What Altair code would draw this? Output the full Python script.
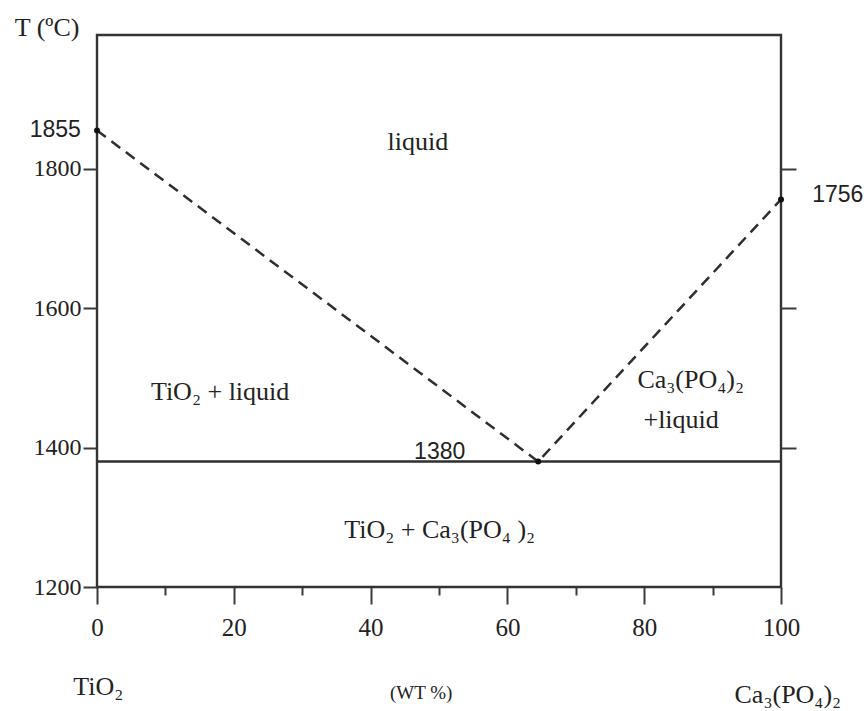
import altair as alt
import pandas as pd

# ---- data ----
liq_comp = [0, 64.5, 100]          # wt % Ca3(PO4)2 along the liquidus
liq_temp = [1855, 1380, 1756]      # temperature (°C)
sol_comp = [0, 100]                # eutectic (solidus) line
sol_temp = [1380, 1380]

x_major = [0, 20, 40, 60, 80, 100]
x_minor = [10, 30, 50, 70, 90]
y_ticks = [1200, 1400, 1600, 1800]
y_right = [1400, 1600, 1800]

region_labels = ["liquid", "TiO₂ + liquid", "Ca₃(PO₄)₂", "+liquid", "TiO₂ + Ca₃(PO₄ )₂",
                 "TiO₂", "Ca₃(PO₄)₂", "T (ºC)"]
region_x = [46.9, 18.0, 86.8, 85.4, 50.1, 0.2, 101.0, -7.3]
region_y = [1839, 1480, 1497, 1440, 1282, 1056, 1045, 2002]

temp_labels = ["1855", "1380", "1756"]
temp_x = [-6.1, 50.1, 108.3]
temp_y = [1856, 1394, 1763]

unit_labels = ["(WT %)"]
unit_x = [47.4]
unit_y = [1048]

# ---- tables ----
liq_df = pd.DataFrame({"comp": liq_comp, "temp": liq_temp})
sol_df = pd.DataFrame({"comp": sol_comp, "temp": sol_temp})
reg_df = pd.DataFrame({"label": region_labels, "comp": region_x, "temp": region_y})
tmp_df = pd.DataFrame({"label": temp_labels, "comp": temp_x, "temp": temp_y})
unit_df = pd.DataFrame({"label": unit_labels, "comp": unit_x, "temp": unit_y})

xscale = alt.Scale(domain=[0, 100], nice=False, zero=False)
yscale = alt.Scale(domain=[1200, 1992], nice=False, zero=False)

LINE = "#2e2e2e"
TXT = "#222222"
SERIF = "Liberation Serif"
SANS = "Liberation Sans"

liquidus = alt.Chart(liq_df).mark_line(
    strokeDash=[11, 7], strokeWidth=2.5, color=LINE
).encode(
    x=alt.X("comp:Q", scale=xscale,
            axis=alt.Axis(values=x_major, orient="bottom", tickSize=17, tickWidth=2,
                          tickColor="#3a3a3a", domain=False, grid=False, labelFont=SERIF,
                          labelFontSize=25, labelColor=TXT, labelPadding=11,
                          labelFlush=False, format="d", title=None)),
    y=alt.Y("temp:Q", scale=yscale,
            axis=alt.Axis(values=y_ticks, orient="left", tickSize=14, tickWidth=2,
                          tickColor="#3a3a3a", domain=False, grid=False, labelFont=SERIF,
                          labelFontSize=24, labelColor=TXT, labelPadding=2,
                          labelFlush=False, format="d", title=None)),
    order="comp:Q",
)

solidus = alt.Chart(sol_df).mark_line(strokeWidth=2.4, color=LINE).encode(
    x=alt.X("comp:Q", scale=xscale,
            axis=alt.Axis(values=x_minor, orient="bottom", tickSize=8, tickWidth=2,
                          tickColor="#3a3a3a", domain=False, grid=False, labels=False,
                          title=None)),
    y=alt.Y("temp:Q", scale=yscale, axis=None),
)

points = alt.Chart(liq_df).mark_circle(size=36, color="#111", opacity=1).encode(
    x=alt.X("comp:Q", scale=xscale, axis=None),
    y=alt.Y("temp:Q", scale=yscale,
            axis=alt.Axis(values=y_right, orient="right", tickSize=15, tickWidth=2,
                          tickColor="#3a3a3a", domain=False, grid=False, labels=False,
                          title=None)),
)

regions = alt.Chart(reg_df).mark_text(
    font=SERIF, fontSize=26, color=TXT, align="center", baseline="middle"
).encode(
    x=alt.X("comp:Q", scale=xscale, axis=None),
    y=alt.Y("temp:Q", scale=yscale, axis=None),
    text="label:N",
)

temps = alt.Chart(tmp_df).mark_text(
    font=SANS, fontSize=23, color=TXT, align="center", baseline="middle"
).encode(
    x=alt.X("comp:Q", scale=xscale, axis=None),
    y=alt.Y("temp:Q", scale=yscale, axis=None),
    text="label:N",
)

units = alt.Chart(unit_df).mark_text(
    font=SERIF, fontSize=19, color=TXT, align="center", baseline="middle"
).encode(
    x=alt.X("comp:Q", scale=xscale, axis=None),
    y=alt.Y("temp:Q", scale=yscale, axis=None),
    text="label:N",
)

chart = alt.layer(liquidus, solidus, points, regions, temps, units).resolve_axis(
    x="independent", y="independent"
).properties(
    width=684, height=552,
    autosize=alt.AutoSizeParams(type="none"),
    padding={"left": 97, "top": 35, "right": 87, "bottom": 124},
    background="white",
).configure_view(
    stroke="#333", strokeWidth=2.4
)

chart.save("out.html", embed_options={"renderer": "svg", "actions": False})
